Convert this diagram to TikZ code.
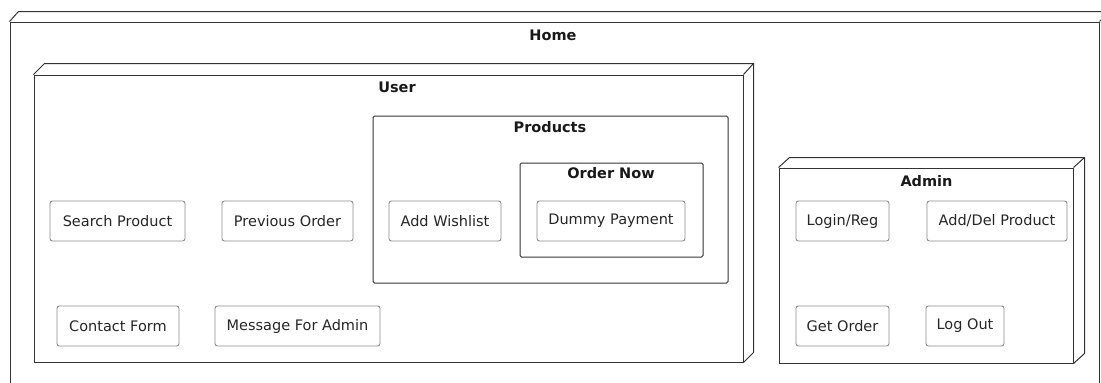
\documentclass[tikz,border=0pt]{standalone}
\usepackage{fontspec}
\setmainfont{DejaVu Sans}
\usetikzlibrary{calc}
\begin{document}
\begin{tikzpicture}[x=1pt,y=-1pt,
  comp/.style={draw=black!45, line width=0.9pt, rounded corners=2.5pt, fill=white, inner sep=0pt, minimum height=40pt, font=\fontsize{14.5}{16}\selectfont, text=black!85},
  frame/.style={draw=black!80, line width=1pt, inner sep=0pt},
  pkg/.style={draw=black!80, line width=1pt, rounded corners=1.5pt, inner sep=0pt},
  ttl/.style={font=\fontsize{14.5}{16}\selectfont\bfseries, text=black!90, inner sep=0pt},
  depth/.style={draw=black!80, line width=1pt, line join=miter}]
\clip (0,0) rectangle (1101,383);
\fill[white] (0,0) rectangle (1101,383);
% Home
\node[frame, minimum width=1089pt, minimum height=378pt] (home) at (554.5,211) {};
\draw[depth] (home.north west) -- ++(9,-10) -- ($(home.north east)+(10,-10)$) -- ($(home.south east)+(10,-10)$);
\draw[depth] (home.north east) -- ++(10,-10);
\node[ttl] (homet) at (553,35) {Home};
% User
\node[frame, minimum width=709pt, minimum height=287pt] (user) at (388.5,218.5) {};
\draw[depth] (user.north west) -- ++(11,-11) -- ($(user.north east)+(10,-11)$) -- ($(user.south east)+(10,-10)$) -- (user.south east);
\draw[depth] (user.north east) -- ++(10,-11);
\node[ttl] (usert) at (397,87) {User};
% Products
\node[pkg, minimum width=355pt, minimum height=167pt] (products) at (550.5,199.5) {};
\node[ttl] (productst) at (550,127) {Products};
\node[pkg, minimum width=183pt, minimum height=94pt] (ordernow) at (611.5,210) {};
\node[ttl] (ordernowt) at (611,173) {Order Now};
\node[comp, minimum width=148pt] (dummy) at (611,221) {Dummy Payment};
\node[comp, minimum width=112pt] (wish) at (445,221) {Add Wishlist};
\node[comp, minimum width=135pt] (search) at (117.5,221) {Search Product};
\node[comp, minimum width=131pt] (prev) at (287.5,221) {Previous Order};
\node[comp, minimum width=122pt] (contact) at (118,326) {Contact Form};
\node[comp, minimum width=165pt] (msg) at (297.5,326) {Message For Admin};
% Admin
\node[frame, minimum width=294pt, minimum height=195pt] (admin) at (926,265.5) {};
\draw[depth] (admin.north west) -- ++(11,-10) -- ($(admin.north east)+(11,-10)$) -- ($(admin.south east)+(11,-10)$) -- (admin.south east);
\draw[depth] (admin.north east) -- ++(11,-10);
\node[ttl] (admint) at (926.5,181) {Admin};
\node[comp, minimum width=93pt] (login) at (842.5,221) {Login/Reg};
\node[comp, minimum width=140pt] (adddel) at (997,221) {Add/Del Product};
\node[comp, minimum width=93pt] (getorder) at (842.5,326) {Get Order};
\node[comp, minimum width=78pt] (logout) at (965,326) {Log Out};
\end{tikzpicture}
\end{document}
